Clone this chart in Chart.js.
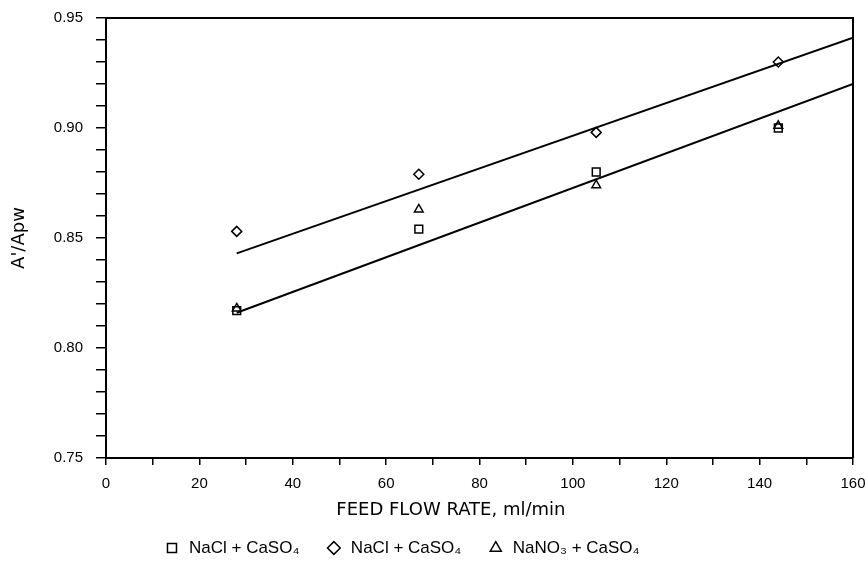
<!DOCTYPE html>
<html>
<head>
<meta charset="utf-8">
<script src="https://cdn.jsdelivr.net/npm/chart.js@4/dist/chart.umd.min.js"></script>
<style>
  html, body { margin: 0; padding: 0; background: #fff; }
  #wrap { width: 868px; height: 568px; }
</style>
</head>
<body>
<div id="wrap"><canvas id="c" width="868" height="568"></canvas></div>
<script>
// ---- data ----
const flowRates = [28, 67, 105, 144];
const naclSquare = [0.817, 0.854, 0.880, 0.900];
const naclDiamond = [0.853, 0.879, 0.898, 0.930];
const nano3Triangle = [0.818, 0.863, 0.874, 0.901];
const upperFitX = [28, 160];
const upperFitY = [0.843, 0.941];
const lowerFitX = [28, 160];
const lowerFitY = [0.816, 0.920];
const seriesLabels = ['NaCl + CaSO\u2084', 'NaCl + CaSO\u2084', 'NaNO\u2083 + CaSO\u2084'];
const xTickLabels = ['0', '20', '40', '60', '80', '100', '120', '140', '160'];
const yTickLabels = ['0.75', '0.80', '0.85', '0.90', '0.95'];
const xTitle = 'FEED FLOW RATE, ml/min';
const yTitle = "A'/Apw";

const toPts = (xs, ys) => xs.map((x, i) => ({ x: x, y: ys[i] }));
const SANS = "'Liberation Sans', Arial, sans-serif";
const WIDE = "'DejaVu Sans', sans-serif";

const frame = {
  id: 'frame',
  afterDraw(chart) {
    const { ctx, chartArea: a } = chart;
    ctx.save();
    ctx.strokeStyle = '#000';
    ctx.lineWidth = 2;
    ctx.beginPath();
    ctx.moveTo(a.left, a.top);
    ctx.lineTo(a.right, a.top);
    ctx.lineTo(a.right, a.bottom);
    ctx.stroke();
    ctx.restore();
  }
};

const pointCommon = {
  showLine: false,
  borderColor: '#000',
  backgroundColor: 'rgba(0,0,0,0)',
  borderWidth: 1.5,
  pointRadius: 5,
  pointHoverRadius: 5
};

new Chart(document.getElementById('c'), {
  type: 'scatter',
  data: {
    datasets: [
      Object.assign({ label: seriesLabels[0], data: toPts(flowRates, naclSquare), pointStyle: 'rect' }, pointCommon, { pointRadius: 5.5 }),
      Object.assign({ label: seriesLabels[1], data: toPts(flowRates, naclDiamond), pointStyle: 'rectRot' }, pointCommon),
      Object.assign({ label: seriesLabels[2], data: toPts(flowRates, nano3Triangle), pointStyle: 'triangle' }, pointCommon),
      { label: 'fit1', data: toPts(upperFitX, upperFitY), showLine: true, pointRadius: 0, borderColor: '#000', borderWidth: 2, fill: false },
      { label: 'fit2', data: toPts(lowerFitX, lowerFitY), showLine: true, pointRadius: 0, borderColor: '#000', borderWidth: 2, fill: false }
    ]
  },
  options: {
    responsive: false,
    animation: false,
    devicePixelRatio: 1,
    layout: { padding: { left: -50, right: 15, top: 18, bottom: 1.5 } },
    plugins: {
      tooltip: { enabled: false },
      legend: {
        position: 'bottom',
        labels: {
          filter: (item) => item.datasetIndex < 3,
          usePointStyle: true,
          boxWidth: 17,
          boxHeight: 9,
          padding: 26,
          color: '#000',
          font: { family: SANS, size: 17 }
        }
      }
    },
    scales: {
      x: {
        type: 'linear',
        min: 0, max: 160,
        afterFit(scale) { scale.height = 55.5; scale.paddingRight = 13; scale.paddingLeft = 0; },
        border: { display: true, color: '#000', width: 2 },
        grid: { display: true, drawOnChartArea: false, drawTicks: true, tickLength: 7, color: '#000', lineWidth: 1.5 },
        ticks: {
          stepSize: 10, autoSkip: false, maxRotation: 0, padding: 10,
          color: '#000',
          font: { family: SANS, size: 15 },
          callback: (v) => { const s = String(Math.round(v)); return xTickLabels.includes(s) ? s : ''; }
        },
        title: {
          display: true, text: xTitle + '          ', color: '#000',
          font: { family: WIDE, size: 18, lineHeight: 0.39 },
          padding: { top: 0, bottom: 0 }
        }
      },
      y: {
        type: 'linear',
        min: 0.75, max: 0.95,
        afterFit(scale) { scale.width = 156; scale.paddingTop = 5; scale.paddingBottom = 5; },
        border: { display: true, color: '#000', width: 2 },
        grid: { display: true, drawOnChartArea: false, drawTicks: true, tickLength: 10, color: '#000', lineWidth: 1.5 },
        ticks: {
          stepSize: 0.01, autoSkip: false, padding: 13,
          color: '#000',
          font: { family: SANS, size: 15 },
          callback: (v) => { const s = (Math.round(v * 100) / 100).toFixed(2); return yTickLabels.includes(s) ? s : ''; }
        },
        title: {
          display: true, text: yTitle, color: '#000',
          font: { family: WIDE, size: 18 },
          padding: { top: 59, bottom: 0 }
        }
      }
    }
  },
  plugins: [frame]
});
</script>
</body>
</html>
